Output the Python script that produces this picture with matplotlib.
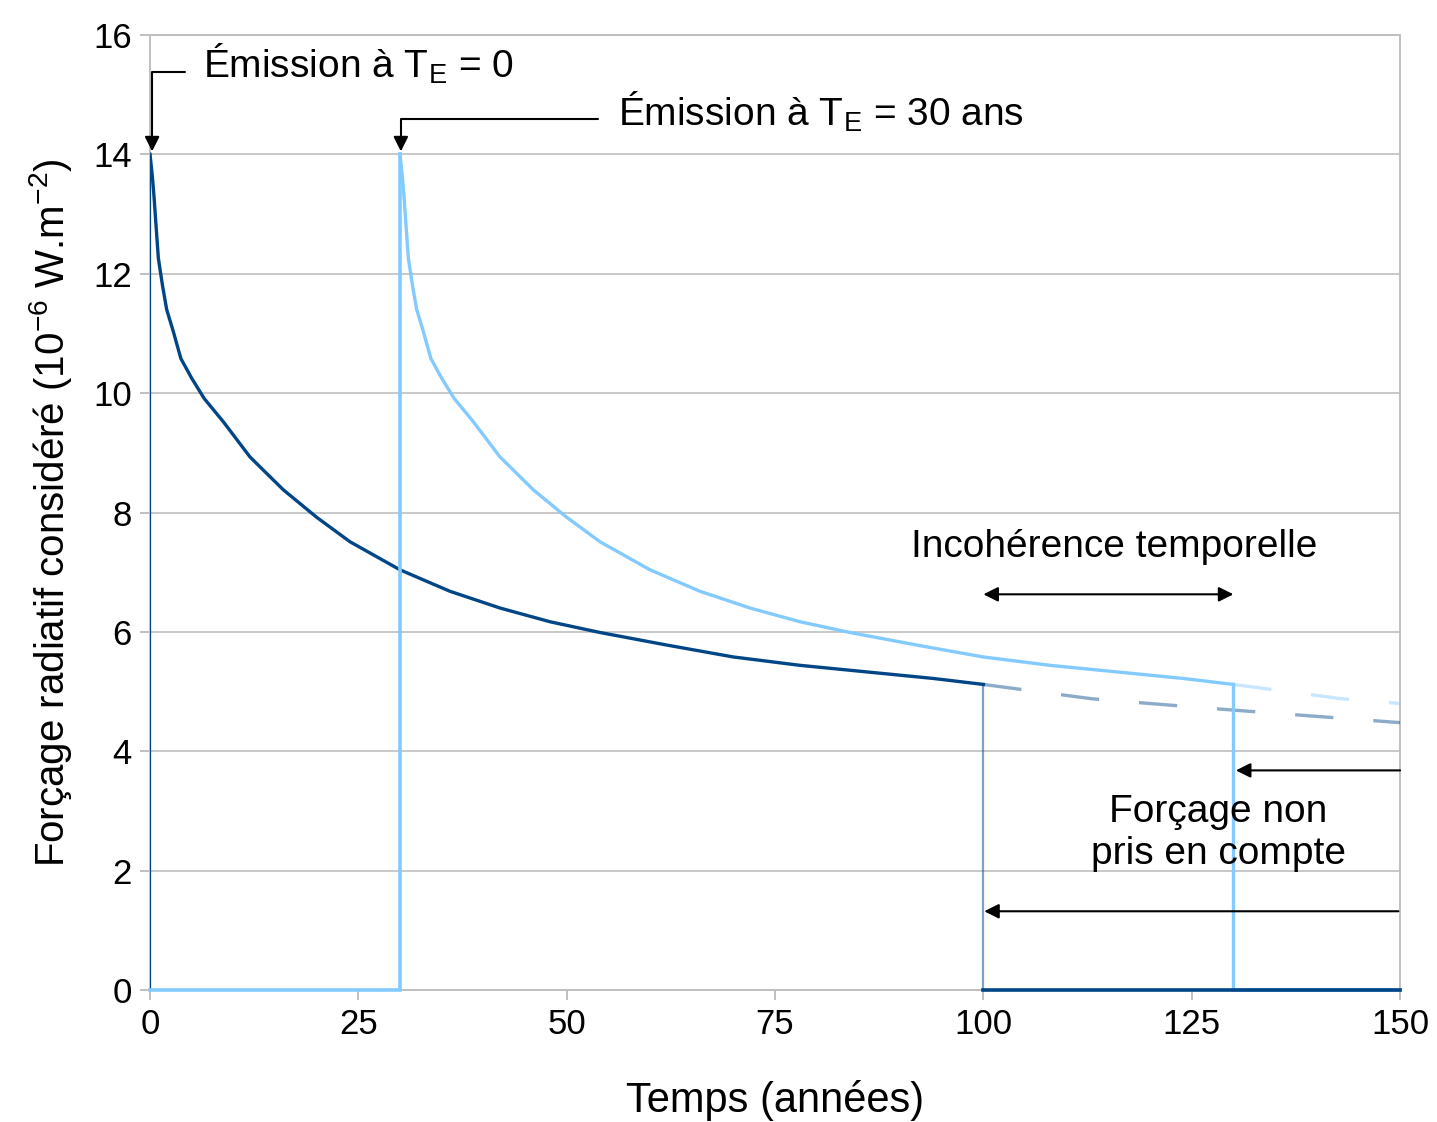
import numpy as np
import matplotlib
matplotlib.use("Agg")
import matplotlib.pyplot as plt

plt.rcParams['font.family'] = ['Liberation Sans', 'DejaVu Sans']
plt.rcParams['mathtext.default'] = 'regular'

# forcing response of one emission pulse
age = np.array([0, 0.28, 0.48, 0.72, 1.0, 1.5, 2.0, 2.8, 3.7, 5.0, 6.5, 8.8,
                12, 16, 20, 24, 30, 36, 42, 48, 54, 62, 70, 78, 86, 94, 100,
                113, 120, 130, 150])
forcing = np.array([14.0, 13.63, 13.29, 12.81, 12.26, 11.8, 11.4, 11.03,
                    10.58, 10.25, 9.91, 9.52, 8.93, 8.38, 7.92, 7.51, 7.04,
                    6.68, 6.40, 6.17, 5.99, 5.78, 5.58, 5.44, 5.33, 5.22, 5.12,
                    4.88, 4.80, 4.69, 4.48])

emissions = [0, 30]
horizon = 100
t_end = 150
colors = ["#004586", "#83caff"]

x_ticks = [0, 25, 50, 75, 100, 125, 150]
y_ticks = [0, 2, 4, 6, 8, 10, 12, 14, 16]

fig = plt.figure(figsize=(14.37, 11.22), dpi=100)
ax = fig.add_axes([0.1044, 0.1176, 0.8699, 0.8512])

for i, (e, col) in enumerate(zip(emissions, colors)):
    t = e + age
    solid = age <= horizon
    tail = (age >= horizon) & (t <= t_end)
    f_end = forcing[age == horizon][0]
    # zero before the emission
    if e > 0:
        ax.plot([0, e], [0, 0], color=col, lw=2.6, clip_on=False, zorder=3)
    # emission jump
    ax.plot([e, e], [0, forcing[0]], color=col,
            lw=1.6 if e == 0 else 2.6, zorder=3)
    ax.plot(t[solid], forcing[solid], color=col, lw=2.4, zorder=3)
    # forcing not accounted for after the horizon
    ax.plot(t[tail], forcing[tail], color=col, lw=2.4, alpha=0.45,
            ls=(0, (11.5, 12)), zorder=3)
    ax.plot([e + horizon, e + horizon], [0, f_end], color=col,
            lw=1.6 if e == 0 else 2.4, alpha=0.5 if e == 0 else 1, zorder=3)
    ax.plot([e + horizon, t_end], [0, 0], color=col, lw=2.6,
            clip_on=False, zorder=5 - i)

ax.set_xlim(0, t_end)
ax.set_ylim(0, 16)
ax.set_xticks(x_ticks)
ax.set_yticks(y_ticks)
ax.yaxis.grid(True, color="#c8c8c8", lw=1.4)
ax.set_axisbelow(True)
for s in ax.spines.values():
    s.set_color("#c0c0c0")
    s.set_linewidth(1.4)
ax.tick_params(axis='both', colors="#c0c0c0", labelcolor="black",
               labelsize=25, length=7, width=1.4, pad=6)

ax.set_xlabel("Temps (années)", fontsize=30, labelpad=28)
ax.set_ylabel("Forçage radiatif considéré (10$^{-6}$ W.m$^{-2}$)",
              fontsize=29, labelpad=14)

arr = dict(arrowstyle='-|>', color='black', lw=1.5, shrinkA=0, shrinkB=0,
           mutation_scale=22, connectionstyle='angle,angleA=0,angleB=90,rad=0')
ax.annotate('', xy=(0.25, 14.05), xytext=(4.2, 15.38), arrowprops=arr)
ax.text(6.3, 15.52, "Émission à T$_E$ = 0", fontsize=28, va='center', ha='left')
ax.annotate('', xy=(30.1, 14.05), xytext=(53.8, 14.59), arrowprops=arr)
ax.text(56.2, 14.72, "Émission à T$_E$ = 30 ans", fontsize=28, va='center', ha='left')

ax.text(115.7, 7.42, "Incohérence temporelle", fontsize=28, ha='center', va='center')
ax.annotate('', xy=(100, 6.63), xytext=(130, 6.63),
            arrowprops=dict(arrowstyle='<|-|>', color='black', lw=1.5,
                            shrinkA=0, shrinkB=0, mutation_scale=22))

ax.text(128.2, 2.63, "Forçage non\npris en compte", fontsize=28,
        ha='center', va='center', zorder=6)
ax.annotate('', xy=(130.3, 3.68), xytext=(150, 3.68),
            arrowprops=dict(arrowstyle='-|>', color='black', lw=1.5,
                            shrinkA=0, shrinkB=0, mutation_scale=22))
ax.annotate('', xy=(100.1, 1.32), xytext=(149.8, 1.32),
            arrowprops=dict(arrowstyle='-|>', color='black', lw=1.5,
                            shrinkA=0, shrinkB=0, mutation_scale=22))

fig.savefig("out.png", dpi=100)
